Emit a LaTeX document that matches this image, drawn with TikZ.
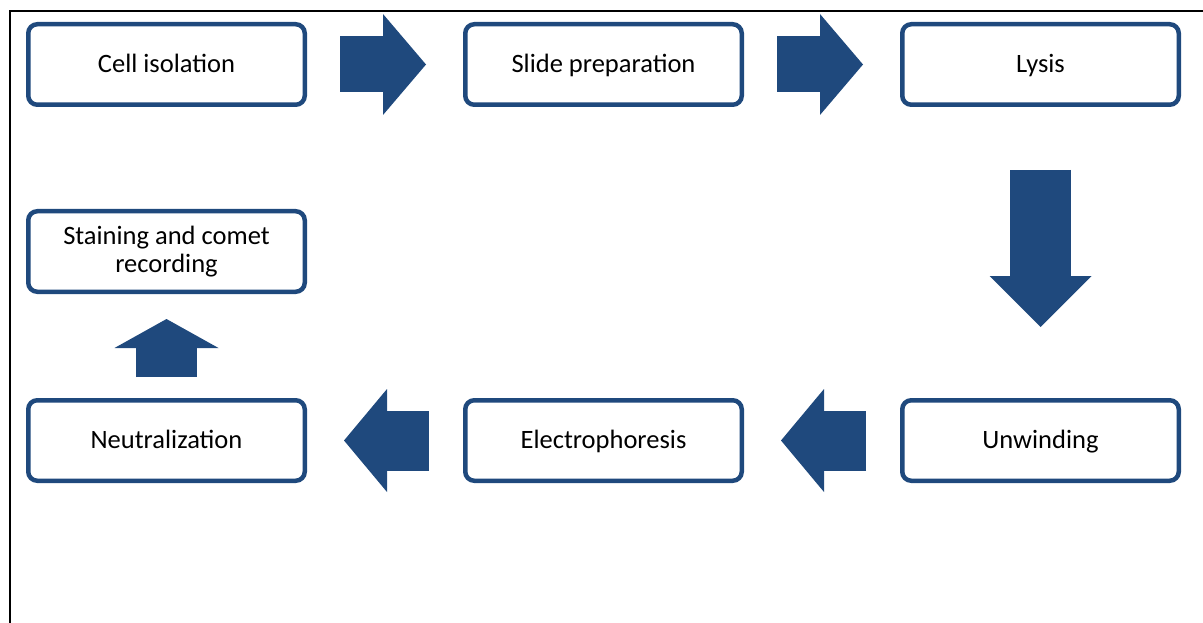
\documentclass[tikz,border=0pt]{standalone}
\usepackage{fontspec}
\setmainfont{Carlito}
\usetikzlibrary{positioning,arrows.meta}
\definecolor{stepblue}{RGB}{31,73,125}
\tikzset{
  stepbox/.style={draw=stepblue, line width=4.5pt, rounded corners=9pt, fill=white,
    minimum width=276.5pt, minimum height=80.5pt, align=center,
    text height=18pt, text depth=2pt,
    font=\fontsize{26.5}{28}\selectfont},
  hflow/.style={draw=stepblue, line width=56pt,
    -{Triangle[length=43pt, width=101pt, line width=0pt]},
    shorten <=33pt, shorten >=37pt},
  lflow/.style={draw=stepblue, line width=60pt,
    -{Triangle[length=43pt, width=103pt, line width=0pt]},
    shorten <=34pt, shorten >=37pt},
}
\begin{document}
\begin{tikzpicture}[x=1pt, y=-1pt]
\useasboundingbox (0,0) rectangle (1203,623);
% Frame
\draw[line width=2pt] (10,623) -- (10,11) -- (1203,11);

% Top row
\node[stepbox] (cell) at (166.5,64.5) {Cell isolation};
\node[stepbox, right=156pt of cell] (slide) {Slide preparation};
\node[stepbox, right=156pt of slide] (lysis) {Lysis};

% Bottom row
\node[stepbox, below=291pt of lysis] (unwind) {Unwinding};
\node[stepbox, left=156pt of unwind] (electro) {Electrophoresis};
\node[stepbox, left=156pt of electro] (neutral) {Neutralization};
\node[stepbox, text height={}, text depth={}, above=104pt of neutral] (stain)
  {Staining and comet\\recording};

% Block arrows
\draw[hflow] (cell) -- (slide);
\draw[hflow] (slide) -- (lysis);
\draw[draw=stepblue, line width=61pt,
  -{Triangle[length=51pt, width=102pt, line width=0pt]},
  shorten <=63pt, shorten >=71pt] (lysis.south) -- (unwind.north);
\draw[lflow] (unwind) -- (electro);
\draw[lflow] (electro) -- (neutral);
\draw[draw=stepblue, line width=61pt,
  -{Triangle[length=29pt, width=104pt, line width=0pt]},
  shorten <=21pt, shorten >=25pt] (neutral.north) -- (stain.south);
\end{tikzpicture}
\end{document}
